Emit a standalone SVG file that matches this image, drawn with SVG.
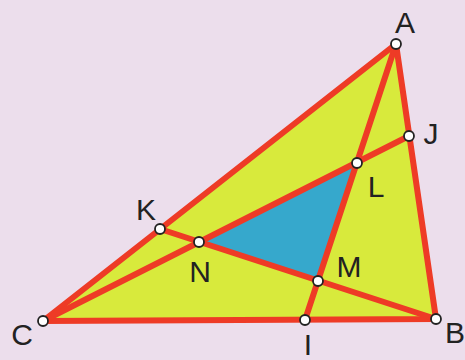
<svg xmlns="http://www.w3.org/2000/svg" width="465" height="360" viewBox="0 0 465 360">
<style>
.ln{stroke:#ee3b26;stroke-width:6;stroke-linecap:round;stroke-linejoin:round;fill:none}
.pt{fill:#fff;stroke:#222;stroke-width:1.8}
.lb{font-family:"Liberation Sans",Arial,sans-serif;font-size:30px;fill:#222;text-anchor:middle}
</style>
<rect width="465" height="360" fill="#ecdeec"/>
<g id="regions">
<polygon points="396,44 436,319 43,321" fill="#d8ea3c"/>
<polygon points="199,242 357,163 318,281" fill="#36a8cc"/>
</g>
<g id="connectors">
<polygon class="ln" points="396,44 436,319 43,321"/>
<line class="ln" x1="43" y1="321" x2="409" y2="136"/>
<line class="ln" x1="396" y1="44" x2="305" y2="320"/>
<line class="ln" x1="436" y1="319" x2="160" y2="229"/>
</g>
<g id="A"><circle class="pt" cx="396" cy="44" r="5"/><text class="lb" x="405" y="33">A</text></g>
<g id="B"><circle class="pt" cx="436" cy="319" r="5"/><text class="lb" x="455" y="343">B</text></g>
<g id="C"><circle class="pt" cx="43" cy="321" r="5"/><text class="lb" x="22" y="345">C</text></g>
<g id="J"><circle class="pt" cx="409" cy="136" r="5"/><text class="lb" x="431" y="144">J</text></g>
<g id="L"><circle class="pt" cx="357" cy="163" r="5"/><text class="lb" x="376" y="197">L</text></g>
<g id="K"><circle class="pt" cx="160" cy="229" r="5"/><text class="lb" x="146" y="220">K</text></g>
<g id="N"><circle class="pt" cx="199" cy="242" r="5"/><text class="lb" x="200" y="282">N</text></g>
<g id="M"><circle class="pt" cx="318" cy="281" r="5"/><text class="lb" x="349" y="277">M</text></g>
<g id="I"><circle class="pt" cx="305" cy="320" r="5"/><text class="lb" x="308" y="355">I</text></g>
</svg>
